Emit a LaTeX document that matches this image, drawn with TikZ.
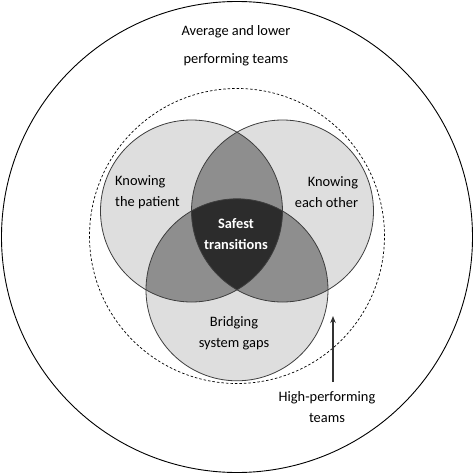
\documentclass[tikz,border=0pt]{standalone}
\usepackage{fontspec}
\setmainfont{Carlito}
\usepackage{xcolor}
\usepackage{tikz}
\usetikzlibrary{arrows.meta}
\definecolor{RingGrey}{RGB}{222,222,222}
\definecolor{PairGrey}{RGB}{142,142,142}
\definecolor{CoreGrey}{RGB}{44,44,44}
\definecolor{EdgeGrey}{RGB}{62,62,62}

\begin{document}
\begin{tikzpicture}[x=1pt, y=1pt,
    setlabel/.style={font=\fontsize{14.4}{21}\selectfont, inner sep=0pt},
    setedge/.style={draw=EdgeGrey, line width=0.8pt}]
    \useasboundingbox (-237,-237) rectangle (237,237);

    % Outer ring and high-performing boundary
    \draw[line width=0.9pt] (0,0) circle (235.5);
    \draw[line width=0.7pt, dash pattern=on 2.5pt off 2pt] (0,1) circle (147.5);

    % Venn centres
    \coordinate (patient) at (-45.5,26);
    \coordinate (others) at (45.5,26);
    \coordinate (gaps) at (0,-52.8);

    % Single sets
    \fill[RingGrey] (patient) circle (91);
    \fill[RingGrey] (others) circle (91);
    \fill[RingGrey] (gaps) circle (91);

    % Pairwise overlaps
    \begin{scope}
        \clip (patient) circle (91);
        \fill[PairGrey] (others) circle (91);
        \fill[PairGrey] (gaps) circle (91);
    \end{scope}
    \begin{scope}
        \clip (others) circle (91);
        \fill[PairGrey] (gaps) circle (91);
    \end{scope}

    % Centre of all three
    \begin{scope}
        \clip (patient) circle (91);
        \clip (others) circle (91);
        \fill[CoreGrey] (gaps) circle (91);
    \end{scope}

    \draw[setedge] (patient) circle (91);
    \draw[setedge] (others) circle (91);
    \draw[setedge] (gaps) circle (91);

    % Labels
    \node[setlabel, align=left] (knowpat) at (-89.5,45) {Knowing\\the patient};
    \node[setlabel, align=right] (knowoth) at (89.5,45) {Knowing\\each other};
    \node[setlabel, align=center, text=white, font=\fontsize{14.4}{21}\selectfont\bfseries] (safest) at (-1,3) {Safest\\transitions};
    \node[setlabel, align=center] (bridge) at (-3,-96) {Bridging\\system gaps};
    \node[setlabel, align=center, font=\fontsize{14.4}{28}\selectfont] (avg) at (-1,191) {Average and lower\\performing teams};
    \node[setlabel, align=center] (high) at (90,-170.5) {High-performing\\teams};

    % Pointer to dashed boundary
    \coordinate (hptip) at (96,-79);
    \draw[line width=1.3pt, color=EdgeGrey!80!black, -{Stealth[length=7pt, width=5.5pt]}] (hptip |- 0,-145) -- (hptip);
\end{tikzpicture}
\end{document}
